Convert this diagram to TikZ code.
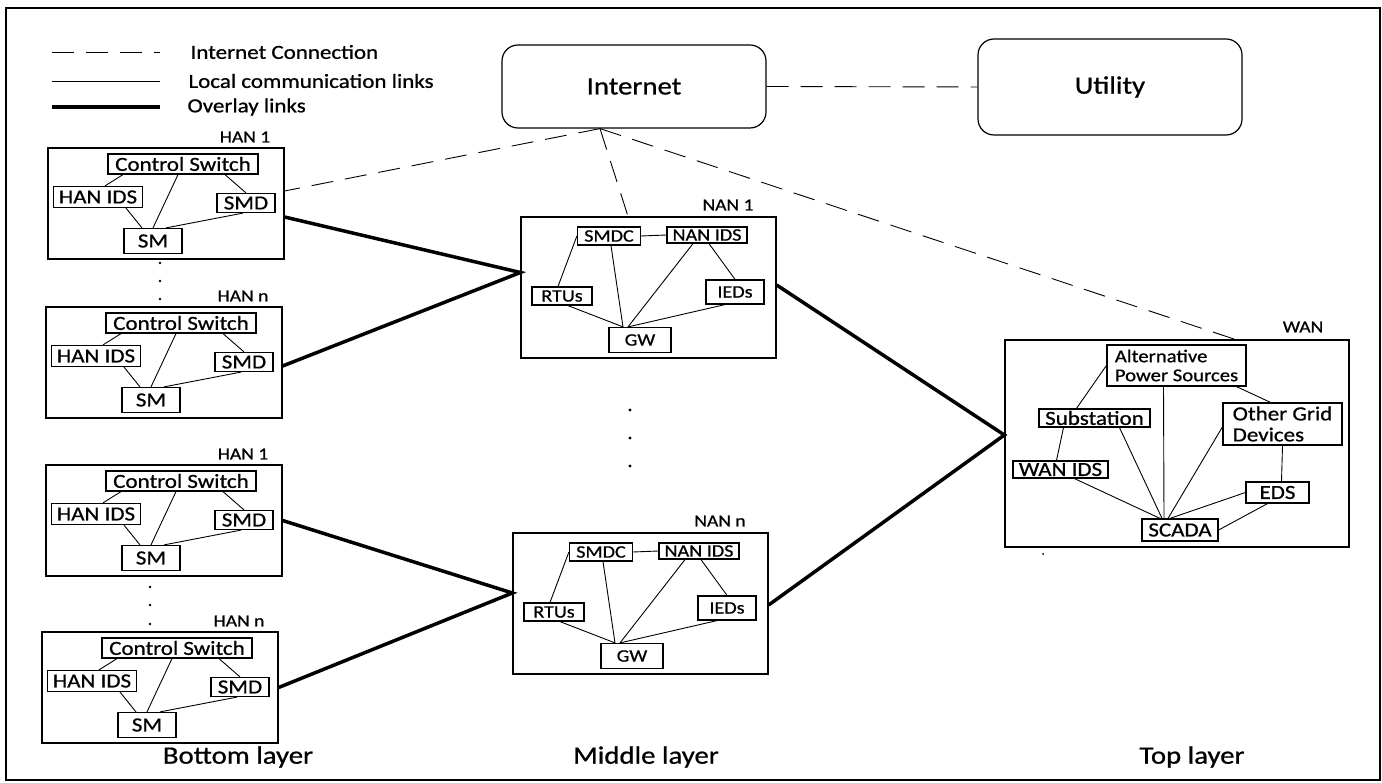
\documentclass[tikz,border=0pt]{standalone}
\usepackage{fontspec}
\setmainfont{Carlito}[FakeStretch=1.15, FakeBold=0.8]
\usetikzlibrary{arrows}
\usetikzlibrary{positioning}

\begin{document}
\begin{tikzpicture}[x=1pt, y=-1pt,
    box/.style={draw, line width=1.3pt, inner sep=0pt},
    item/.style={draw, line width=1.2pt, inner sep=0pt, font=\fontsize{20}{21}\selectfont},
    nitem/.style={draw, line width=1.2pt, inner sep=0pt, font=\fontsize{17.5}{19}\selectfont},
    netbox/.style={draw, line width=1.2pt, rounded corners=16pt, font=\fontsize{25}{27}\selectfont},
    lab/.style={font=\fontsize{17}{19}\selectfont},
    layerlab/.style={font=\fontsize{25}{27}\selectfont},
    leg/.style={anchor=west, font=\fontsize{20}{22}\selectfont},
    locallink/.style={line width=0.9pt},
    overlaylink/.style={line width=3.5pt},
    inet/.style={line width=0.9pt, dash pattern=on 22pt off 12pt}]

    \useasboundingbox (0,0) rectangle (1382,783);
    % Rahmen
    \draw[line width=2pt] (6,8) rectangle (1380,780);

    % Legende
    \draw[inet] (52,52) -- (160,52);
    \node[leg] (leg1) at (187,52) {Internet Connection};
    \draw[locallink] (52,81) -- (160,81);
    \node[leg] (leg2) at (185,81) {Local communication links};
    \draw[overlaylink] (52,107) -- (160,107);
    \node[leg] (leg3) at (184,107) {Overlay links};

    % Internet und Utility
    \node[netbox, minimum width=264, minimum height=83] (internet) at (634,86.5) {Internet};
    \node[netbox, minimum width=264, minimum height=96] (utility) at (1110,87) {Utility};

    % HAN-Boxen (Bottom layer)
    \foreach \i/\bx/\by/\lab in {1/48/148/HAN 1, 2/46/307/HAN n, 3/46/465/HAN 1, 4/42/632/HAN n} {
        \node[box, minimum width=236, minimum height=111] (han\i) at (\bx+118,\by+55.5) {};
        \node[lab] at (\bx+197,\by-11) {\lab};
        \node[item, minimum width=150, minimum height=20] (h\i-cs) at (\bx+135,\by+16) {Control Switch};
        \node[item, minimum width=89, minimum height=21] (h\i-ids) at (\bx+50,\by+49) {HAN IDS};
        \node[item, minimum width=58, minimum height=19] (h\i-smd) at (\bx+198,\by+55) {SMD};
        \node[item, minimum width=58, minimum height=25] (h\i-sm) at (\bx+105,\by+93) {SM};
        % lokale Verbindungen
        \draw[locallink] ([xshift=-60pt]h\i-cs.south) -- ([xshift=7pt]h\i-ids.north);
        \draw[locallink] ([xshift=-5pt]h\i-cs.south) -- (h\i-sm.north);
        \draw[locallink] ([xshift=42pt]h\i-cs.south) -- (h\i-smd.north);
        \draw[locallink] ([xshift=28pt]h\i-ids.south) -- ([xshift=-11pt]h\i-sm.north);
        \draw[locallink] ([xshift=13pt]h\i-sm.north) -- ([xshift=-3pt]h\i-smd.south);
    }
    \foreach \y in {263,281,299} \fill (160,\y) circle (1.4);
    \foreach \y in {587,605,624} \fill (150,\y) circle (1.4);

    % NAN-Boxen (Middle layer)
    \foreach \i/\bx/\by/\lab in {1/521/217/NAN 1, 2/513/533/NAN n} {
        \node[box, minimum width=255, minimum height=141] (nan\i) at (\bx+127.5,\by+70.5) {};
        \node[lab] at (\bx+207,\by-12) {\lab};
        \node[nitem, minimum width=63, minimum height=18] (n\i-smdc) at (\bx+88,\by+19) {SMDC};
        \node[nitem, minimum width=80, minimum height=16] (n\i-ids) at (\bx+186,\by+18) {NAN IDS};
        \node[nitem, minimum width=60, minimum height=18] (n\i-rtu) at (\bx+41,\by+79) {RTUs};
        \node[nitem, minimum width=58, minimum height=24] (n\i-ied) at (\bx+214,\by+75) {IEDs};
        \node[nitem, minimum width=62, minimum height=25] (n\i-gw) at (\bx+119,\by+123) {GW};
        % lokale Verbindungen
        \draw[locallink] (n\i-smdc.east) -- (n\i-ids.west);
        \draw[locallink] (n\i-smdc.west) -- ([xshift=-4pt]n\i-rtu.north);
        \draw[locallink] ([xshift=2pt]n\i-smdc.south) -- ([xshift=-17pt]n\i-gw.north);
        \draw[locallink] ([xshift=-14pt]n\i-ids.south) -- ([xshift=-12pt]n\i-gw.north);
        \draw[locallink] ([xshift=2pt]n\i-ids.south) -- (n\i-ied.north);
        \draw[locallink] ([xshift=6pt]n\i-rtu.south) -- ([xshift=-17pt]n\i-gw.north);
        \draw[locallink] ([xshift=-10pt]n\i-ied.south) -- ([xshift=-12pt]n\i-gw.north);
    }
    \foreach \y in {410,438,466} \fill (630,\y) circle (1.6);

    % WAN-Box (Top layer)
    \node[box, minimum width=344, minimum height=207] (wan) at (1177,443.5) {};
    \node[lab] at (1303,327) {WAN};
    \node[item, minimum width=139, minimum height=41, align=left, font=\fontsize{18}{19}\selectfont] (aps) at (1176.5,365.5) {Alternative\\Power Sources};
    \node[item, minimum width=111, minimum height=18] (sub) at (1094.5,418) {Substation};
    \node[item, minimum width=119, minimum height=42, align=left] (ogd) at (1282.5,424) {Other Grid\\Devices};
    \node[item, minimum width=95, minimum height=17] (wids) at (1060.5,469.5) {WAN IDS};
    \node[item, minimum width=63, minimum height=21] (eds) at (1277.5,492.5) {EDS};
    \node[item, minimum width=76, minimum height=22] (scada) at (1180,530) {SCADA};
    % lokale Verbindungen
    \draw[locallink] (aps.west) -- ([xshift=-18pt]sub.north);
    \draw[locallink] ([xshift=-13pt]aps.south) -- ([xshift=-16pt]scada.north);
    \draw[locallink] ([xshift=60pt]aps.south) -- ([xshift=-12pt]ogd.north);
    \draw[locallink] ([xshift=-31pt]sub.south) -- ([xshift=-4pt]wids.north);
    \draw[locallink] ([xshift=25pt]sub.south) -- ([xshift=-18pt]scada.north);
    \draw[locallink] ([yshift=-3pt]ogd.west) -- ([xshift=-12pt]scada.north);
    \draw[locallink] (ogd.south) -- ([xshift=4pt]eds.north);
    \draw[locallink] ([xshift=14pt]wids.south) -- ([xshift=-20pt]scada.north);
    \draw[locallink] (eds.west) -- ([xshift=-10pt]scada.north);
    \draw[locallink] ([xshift=-10pt]eds.south) -- (scada.east);
    \fill (1043,554) circle (1);

    % Overlay-Verbindungen
    \draw[overlaylink] ([yshift=-13.5pt]han1.east) -- ([yshift=15pt]nan1.west) -- ([yshift=-3.5pt]han2.east);
    \draw[overlaylink] (han3.east) -- ([yshift=10.5pt]nan2.west) -- (han4.east);
    \draw[overlaylink] ([yshift=2.5pt]nan1.east) -- ([yshift=8.5pt]wan.west) -- ([yshift=-1.5pt]nan2.east);

    % Internet-Verbindungen
    \draw[inet] ([xshift=-34pt]internet.south) -- ([yshift=12.5pt]han1.east);
    \draw[inet] ([xshift=-34pt]internet.south) -- ([xshift=-20.5pt]nan1.north);
    \draw[inet] ([xshift=-34pt]internet.south) -- ([xshift=58pt]wan.north);
    \draw[inet] (internet.east) -- (utility.west);

    % Ebenen
    \node[layerlab] (bottom) at (238,757) {Bottom layer};
    \node[layerlab] (middle) at (646,757) {Middle layer};
    \node[layerlab] (top) at (1192,757) {Top layer};
\end{tikzpicture}
\end{document}
